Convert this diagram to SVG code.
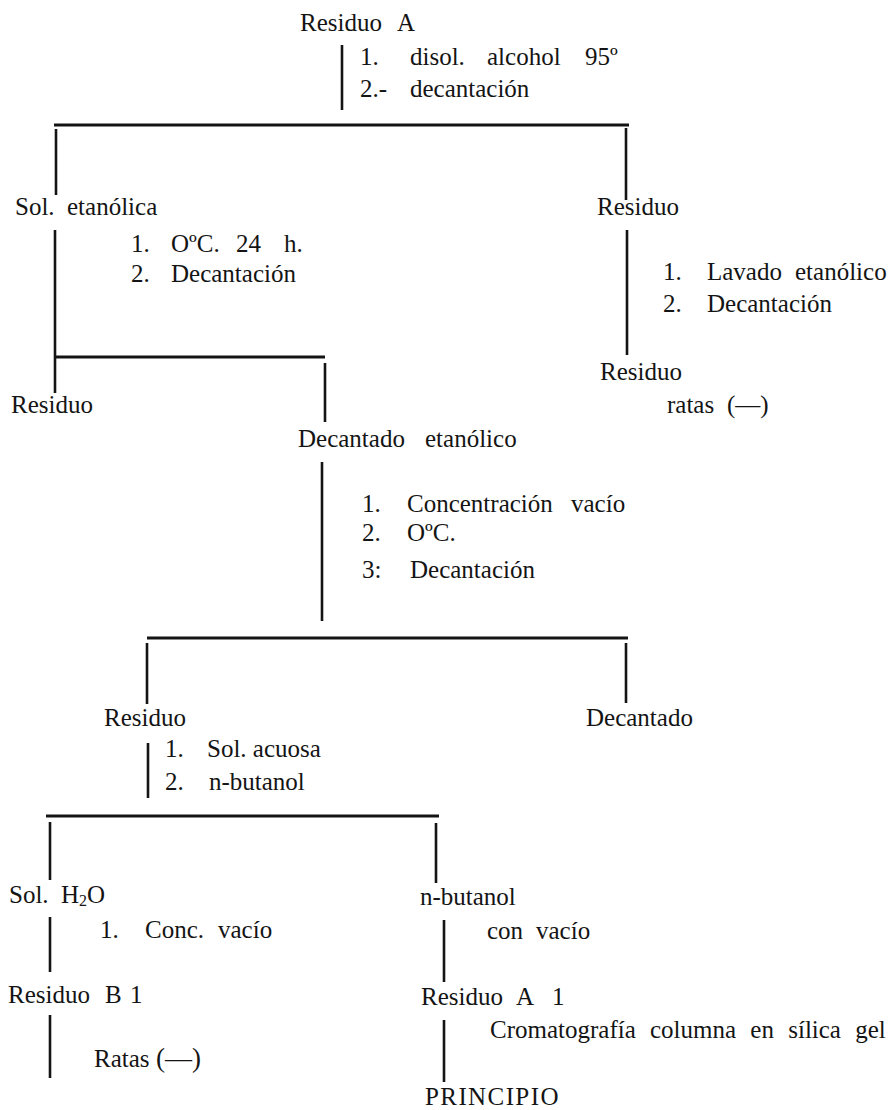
<svg xmlns="http://www.w3.org/2000/svg" width="892" height="1110" viewBox="0 0 892 1110">
<style>
text{font-family:"Liberation Serif","DejaVu Serif",serif;font-size:25px;fill:#141414}
.c line{stroke:#141414;stroke-width:2.6;stroke-linecap:butt}
.c line.h{stroke-width:3}
</style>
<rect width="892" height="1110" fill="#fff"/>
<g class="c" id="connectors">
<line x1="342" y1="45" x2="342" y2="110"/>
<line class="h" x1="54" y1="125" x2="629" y2="125"/>
<line x1="56" y1="129" x2="56" y2="195"/>
<line x1="626" y1="128" x2="626" y2="200"/>
<line x1="55" y1="230" x2="55" y2="393"/>
<line class="h" x1="54" y1="357" x2="325" y2="357"/>
<line x1="325" y1="363" x2="325" y2="422"/>
<line x1="627" y1="230" x2="627" y2="355"/>
<line x1="322" y1="462" x2="322" y2="621"/>
<line class="h" x1="147" y1="638" x2="628" y2="638"/>
<line x1="147" y1="643" x2="147" y2="704"/>
<line x1="626" y1="643" x2="626" y2="703"/>
<line x1="148" y1="743" x2="148" y2="798"/>
<line class="h" x1="46" y1="816" x2="439" y2="816"/>
<line x1="50" y1="822" x2="50" y2="880"/>
<line x1="436" y1="823" x2="436" y2="883"/>
<line x1="50" y1="917" x2="50" y2="972"/>
<line x1="444" y1="920" x2="444" y2="982"/>
<line x1="50" y1="1015" x2="50" y2="1078"/>
<line x1="444" y1="1020" x2="444" y2="1082"/>
</g>
<g id="n-residuoA"><text x="300" y="31">Residuo <tspan x="397">A</tspan></text></g>
<g id="s1"><text x="360" y="65">1.</text><text x="410" y="65">disol. <tspan x="487">alcohol</tspan> <tspan x="585">95º</tspan></text><text x="360" y="97">2.-</text><text x="410" y="97">decantación</text></g>
<g id="n-sol-etanolica"><text x="15" y="215">Sol. <tspan x="67">etanólica</tspan></text></g>
<g id="n-residuo-r1"><text x="597" y="215">Residuo</text></g>
<g id="s2"><text x="131" y="252">1.</text><text x="171" y="252">OºC. <tspan x="236">24</tspan> <tspan x="284">h.</tspan></text><text x="131" y="282">2.</text><text x="171" y="282">Decantación</text></g>
<g id="s3"><text x="663" y="280">1.</text><text x="707" y="280">Lavado <tspan x="795">etanólico</tspan></text><text x="663" y="312">2.</text><text x="707" y="312">Decantación</text></g>
<g id="n-residuo-r2"><text x="600" y="380">Residuo</text><text x="667" y="413">ratas <tspan x="727">(—)</tspan></text></g>
<g id="n-residuo-l1"><text x="11" y="413">Residuo</text></g>
<g id="n-decantado-etanolico"><text x="298" y="447">Decantado <tspan x="425">etanólico</tspan></text></g>
<g id="s4"><text x="362" y="512">1.</text><text x="407" y="512">Concentración <tspan x="571">vacío</tspan></text><text x="362" y="541">2.</text><text x="407" y="541">OºC.</text><text x="362" y="578">3:</text><text x="410" y="578">Decantación</text></g>
<g id="n-residuo-l2"><text x="104" y="726">Residuo</text></g>
<g id="n-decantado"><text x="586" y="726">Decantado</text></g>
<g id="s5"><text x="165" y="757">1.</text><text x="207" y="757">Sol. acuosa</text><text x="165" y="790">2.</text><text x="209" y="790">n-butanol</text></g>
<g id="n-sol-h2o"><text x="9" y="903">Sol. <tspan x="61">H</tspan><tspan font-size="16" dy="3">2</tspan><tspan dy="-3">O</tspan></text></g>
<g id="n-butanol"><text x="420" y="905">n-butanol</text></g>
<g id="s6"><text x="100" y="938">1.</text><text x="145" y="938">Conc. <tspan x="218">vacío</tspan></text></g>
<g id="s7"><text x="487" y="939">con <tspan x="536">vacío</tspan></text></g>
<g id="n-residuo-b1"><text x="8" y="1003">Residuo <tspan x="105">B</tspan> <tspan x="130">1</tspan></text><text x="94" y="1067">Ratas <tspan x="156" font-size="27">(—)</tspan></text></g>
<g id="n-residuo-a1"><text x="421" y="1005">Residuo <tspan x="516">A</tspan> <tspan x="552">1</tspan></text></g>
<g id="s8"><text x="490" y="1038" word-spacing="8">Cromatografía columna en sílica gel</text></g>
<g id="n-principio"><text x="425" y="1105" letter-spacing="1.4">PRINCIPIO</text></g>
</svg>
